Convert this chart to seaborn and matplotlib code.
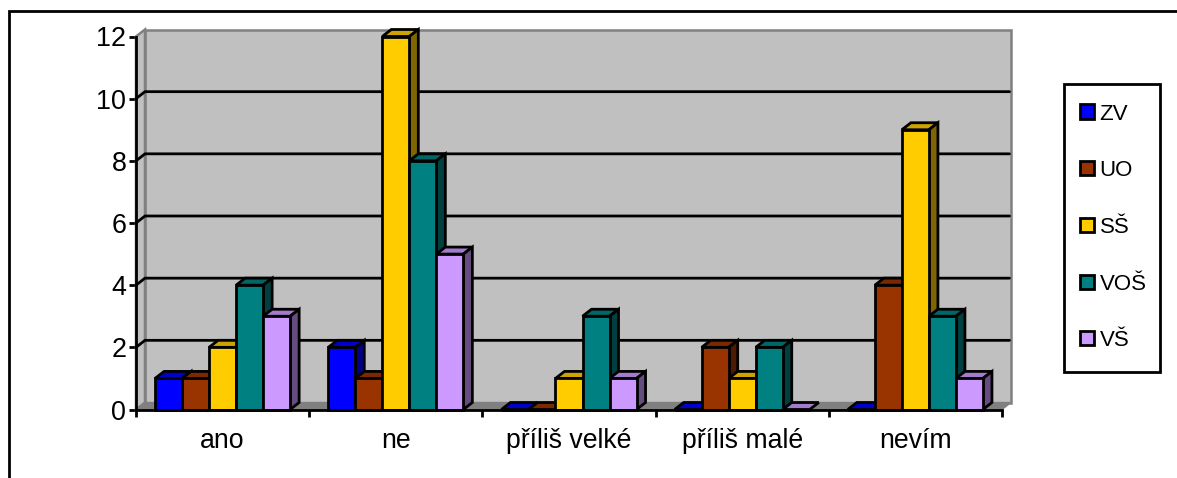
import matplotlib
matplotlib.use("Agg")
import matplotlib.pyplot as plt
from matplotlib.lines import Line2D
from matplotlib.patches import Polygon, Rectangle
import pandas as pd
import seaborn as sns

categories = ["ano", "ne", "příliš velké", "příliš malé", "nevím"]
series = ["ZV", "UO", "SŠ", "VOŠ", "VŠ"]
zv = [1, 2, 0, 0, 0]
uo = [1, 1, 0, 2, 4]
ss = [2, 12, 1, 1, 9]
vos = [4, 8, 3, 2, 3]
vs = [3, 5, 1, 0, 1]
yticks = [0, 2, 4, 6, 8, 10, 12]

front = ["#0000FF", "#993300", "#FFCC00", "#008080", "#CC99FF"]
top = ["#0000CC", "#7A2900", "#CCA300", "#006666", "#A37ACC"]
side = ["#000080", "#4D1900", "#806600", "#004040", "#664D80"]

W, H = 1177, 478
LW = 2.0
sns.set_theme(style="white")
plt.rcParams["font.family"] = ["Liberation Sans", "DejaVu Sans"]

df = pd.DataFrame({"cat": categories, "ZV": zv, "UO": uo, "SŠ": ss, "VOŠ": vos, "VŠ": vs})
long = df.melt(id_vars="cat", var_name="series", value_name="value")

fig = plt.figure(figsize=(W / 100, H / 100), dpi=100, facecolor="white")
fig.add_artist(Line2D([8.5 / W, 8.5 / W, 1], [0, 1 - 10.5 / H, 1 - 10.5 / H],
                      transform=fig.transFigure, color="black", lw=LW, solid_joinstyle="miter"))

L, R, Y0, Y12 = 136, 1002, 409.5, 36.5
ax = fig.add_axes([L / W, 1 - Y0 / H, (R - L) / W, (Y0 - Y12) / H])
sns.barplot(data=long, x="cat", y="value", hue="series", order=categories, hue_order=series,
            palette=front, saturation=1, width=0.78, gap=0, dodge=True, legend=False, ax=ax,
            edgecolor="black", linewidth=LW, zorder=5, errorbar=None)
ax.set_xlim(-0.5, 4.5)
ax.set_ylim(0, 12)

px = 5 / (R - L)
py = 12 / (Y0 - Y12)
dx, dy = 9 * px, 7 * py
x0, x1 = -0.5, 4.5
ymax = 12

# walls and floor
ax.add_patch(Polygon([(x0 + dx, dy), (x1 + dx, dy), (x1 + dx, ymax + dy), (x0 + dx, ymax + dy)],
                     closed=True, fc="#C0C0C0", ec="#808080", lw=1.8, zorder=1, clip_on=False))
ax.add_patch(Polygon([(x0, 0), (x0 + dx, dy), (x0 + dx, ymax + dy), (x0, ymax)],
                     closed=True, fc="#C0C0C0", ec="#808080", lw=1.8, zorder=1, clip_on=False))
ax.add_patch(Polygon([(x0, 0), (x1, 0), (x1 + dx, dy), (x0 + dx, dy)],
                     closed=True, fc="#808080", ec="#808080", lw=1, zorder=1, clip_on=False))
for t in yticks[1:-1]:
    ax.plot([x0, x0 + dx, x1 + dx - 1.5 * px], [t, t + dy, t + dy], color="black", lw=LW,
            zorder=2, clip_on=False, solid_joinstyle="miter")

# 3D faces, built on the bars seaborn drew
n_cat = len(categories)
for s_idx, cont in enumerate(ax.containers):
    for bar in cont:
        bx, bw, bh = bar.get_x(), bar.get_width(), bar.get_height()
        ink = dict(ec="black", lw=LW, clip_on=False, joinstyle="miter")
        z = 4 + s_idx * 0.01 + bx * 0.001
        ax.add_patch(Polygon([(bx, bh), (bx + bw, bh), (bx + bw + dx, bh + dy), (bx + dx, bh + dy)],
                             closed=True, fc=top[s_idx], zorder=z, **ink))
        if bh > 0:
            ax.add_patch(Polygon([(bx + bw, 0), (bx + bw + dx, dy), (bx + bw + dx, bh + dy), (bx + bw, bh)],
                                 closed=True, fc=side[s_idx], zorder=z, **ink))
        bar.set_clip_on(False)

for spine in ("top", "right"):
    ax.spines[spine].set_visible(False)
for spine in ("left", "bottom"):
    ax.spines[spine].set_color("black")
    ax.spines[spine].set_linewidth(LW)
    ax.spines[spine].set_zorder(6)

ax.set_xlabel("")
ax.set_ylabel("")
ax.set_yticks(yticks)
ax.set_yticklabels([str(t) for t in yticks], fontsize=19.4, color="black")
ax.tick_params(axis="y", left=True, length=5, width=LW, color="black", pad=2)
ax.set_xticks([i - 0.5 for i in range(n_cat + 1)], minor=False)
ax.set_xticklabels([""] * (n_cat + 1))
ax.tick_params(axis="x", bottom=True, length=5, width=LW, color="black")
for i, c in enumerate(categories):
    ax.annotate(c, (i, 0), xytext=(0, -23), textcoords="offset points", ha="center", va="center",
                fontsize=19.2, color="black", annotation_clip=False)

# legend
fig.add_artist(Rectangle((1063.5 / W, 1 - 371.5 / H), (1159.5 - 1063.5) / W, (371.5 - 83.5) / H,
                         transform=fig.transFigure, fc="white", ec="black", lw=LW))
leg_y = [111.5, 168, 225, 282, 338]
for name, color, y in zip(series, front, leg_y):
    fig.add_artist(Rectangle((1079.5 / W, 1 - (y + 7) / H), 14 / W, 14 / H,
                             transform=fig.transFigure, fc=color, ec="black", lw=LW))
    fig.text(1099.5 / W, 1 - y / H, name, ha="left", va="center_baseline", fontsize=16, color="black")

fig.savefig("out.png", dpi=100)
